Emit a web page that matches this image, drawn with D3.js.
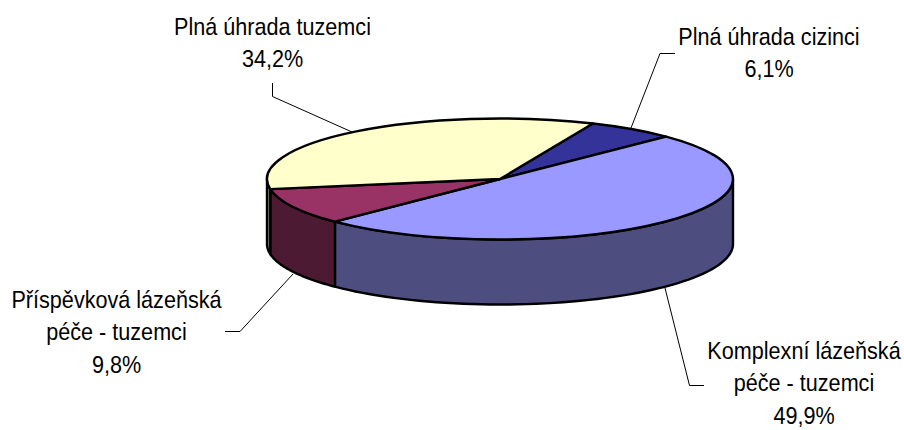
<!DOCTYPE html>
<html>
<head>
<meta charset="utf-8">
<style>
  html, body { margin: 0; padding: 0; background: #fff; }
  text { font-family: 'Liberation Sans', sans-serif; font-size: 24px; fill: #000; }
</style>
</head>
<body>
<svg width="904" height="430"></svg>
<script src="https://d3js.org/d3.v7.min.js"></script>
<script>
var categories = ["Plná úhrada cizinci", "Komplexní lázeňská péče - tuzemci", "Příspěvková lázeňská péče - tuzemci", "Plná úhrada tuzemci"];
var values = [6.1, 49.9, 9.8, 34.2];
var valueLabels = ["6,1%", "49,9%", "9,8%", "34,2%"];
var topColors = ["#333399", "#9999ff", "#993366", "#ffffcc"];
var wallColors = ["#1a1a4d", "#4d4d80", "#4d1a33", "#808066"];
// label lines as wrapped in the original
var labelLines = [
  ["Plná úhrada cizinci"],
  ["Komplexní lázeňská", "péče - tuzemci"],
  ["Příspěvková lázeňská", "péče - tuzemci"],
  ["Plná úhrada tuzemci"]
];

var svg = d3.select("svg");
var cx = 500, cy = 179, rx = 233, ry = 60.5, depth = 65;
var startAngle = 23.5 * Math.PI / 180;

var pie = d3.pie().sort(null).startAngle(startAngle).endAngle(startAngle + 2 * Math.PI);
var arcs = pie(values);

// angle is clockwise from the top, like d3.arc
function px(a) { return cx + rx * Math.sin(a); }
function py(a) { return cy - ry * Math.cos(a); }

// front wall of the disc, only the part between 90 and 270 degrees shows
function wallPath(a0, a1) {
  var p = d3.path();
  p.moveTo(px(a0), py(a0));
  p.lineTo(px(a0), py(a0) + depth);
  var n = 60;
  for (var i = 1; i <= n; i++) {
    var a = a0 + (a1 - a0) * i / n;
    p.lineTo(px(a), py(a) + depth);
  }
  p.lineTo(px(a1), py(a1));
  for (var j = n - 1; j >= 0; j--) {
    var b = a0 + (a1 - a0) * j / n;
    p.lineTo(px(b), py(b));
  }
  p.closePath();
  return p.toString();
}

var walls = [];
arcs.forEach(function(d, i) {
  [0, 2 * Math.PI].forEach(function(shift) {
    var a0 = Math.max(d.startAngle - shift, Math.PI / 2);
    var a1 = Math.min(d.endAngle - shift, 3 * Math.PI / 2);
    if (a1 > a0) walls.push({a0: a0, a1: a1, i: i});
  });
});

svg.append("g").selectAll("path")
    .data(walls)
  .enter().append("path")
    .attr("d", function(d) { return wallPath(d.a0, d.a1); })
    .attr("fill", function(d) { return wallColors[d.i]; })
    .attr("stroke", "#000")
    .attr("stroke-width", 2.4)
    .attr("stroke-linejoin", "round");

var arc = d3.arc().innerRadius(0).outerRadius(rx);

svg.append("g")
    .attr("transform", "translate(" + cx + "," + cy + ") scale(1," + (ry / rx) + ")")
  .selectAll("path")
    .data(arcs)
  .enter().append("path")
    .attr("d", arc)
    .attr("fill", function(d, i) { return topColors[i]; })
    .attr("stroke", "#000")
    .attr("stroke-width", 2.4)
    .attr("vector-effect", "non-scaling-stroke")
    .attr("stroke-linejoin", "round");

// leader lines
var leaders = [
  [[631, 128], [660, 53.5], [675, 53.5]],
  [[665, 288], [689.5, 385.5], [704, 385.5]],
  [[293, 274], [240, 331.5], [225, 331.5]],
  [[352, 132], [272.5, 96.5], [272.5, 83]]
];
svg.append("g").selectAll("path")
    .data(leaders)
  .enter().append("path")
    .attr("d", d3.line())
    .attr("fill", "none")
    .attr("stroke", "#000")
    .attr("stroke-width", 1);

// labels, no narrow font here so squeeze the regular one
var labelPos = [[769, 44.5], [804, 358.5], [116.5, 307.5], [272.5, 34.5]];
var labels = svg.append("g").selectAll("text")
    .data(categories)
  .enter().append("text")
    .attr("text-anchor", "middle")
    .attr("transform", function(d, i) { return "translate(" + labelPos[i][0] + "," + labelPos[i][1] + ") scale(0.9,1)"; });

labels.each(function(d, i) {
  var t = d3.select(this);
  labelLines[i].concat(valueLabels[i]).forEach(function(line, k) {
    t.append("tspan").attr("x", 0).attr("y", k * 33).text(line);
  });
});
</script>
</body>
</html>
